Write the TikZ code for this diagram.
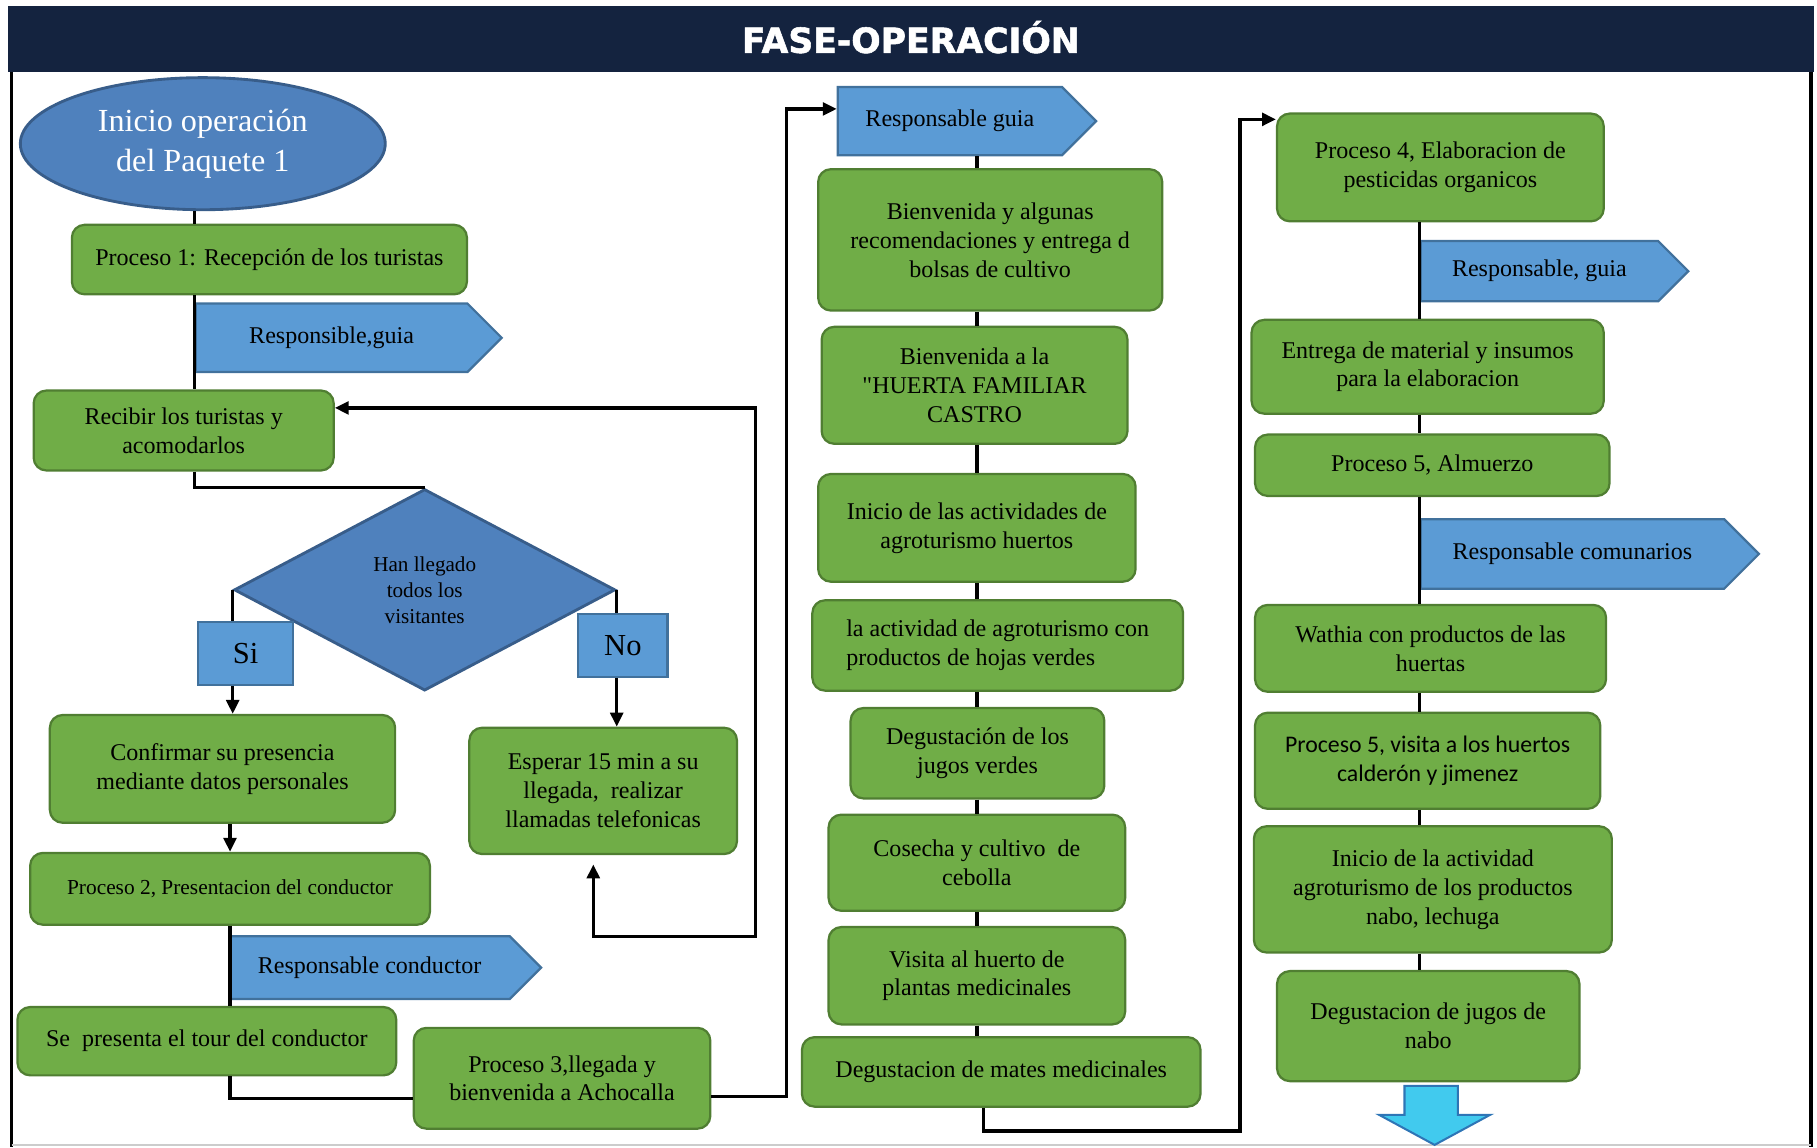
\documentclass[tikz,border=0pt]{standalone}
\usepackage{fontspec}
\setmainfont{Liberation Serif}
\newfontfamily\calibri{Carlito}
\newfontfamily\heavysans{DejaVu Sans}[BoldFeatures={FakeBold=1.6}]
\usepackage{tikz}
\usetikzlibrary{arrows.meta,positioning,calc,shapes.geometric,shapes.symbols}
\definecolor{navy}{HTML}{14233F}
\definecolor{leaf}{HTML}{70AD47}
\definecolor{leafdark}{HTML}{507E32}
\definecolor{steel}{HTML}{4F81BD}
\definecolor{steeldark}{HTML}{385D8A}
\definecolor{sky}{HTML}{5B9BD5}
\definecolor{skydark}{HTML}{41719C}
\definecolor{cyanarrow}{HTML}{41CAEE}
\definecolor{cyandark}{HTML}{2E75B6}
\tikzset{
  task/.style={draw=leafdark,fill=leaf,line width=1.1pt,rounded corners=0.22cm,align=center,
    font=\fontsize{11.8}{14.2}\selectfont},
  tag/.style={signal,signal to=east,signal pointer angle=90,draw=skydark,fill=sky,line width=1.1pt,
    font=\fontsize{11.8}{14.2}\selectfont,inner sep=0pt,anchor=west},
  start/.style={ellipse,draw=steeldark,fill=steel,line width=1.4pt,text=white,align=center,
    font=\fontsize{15.8}{19.5}\selectfont},
  decision/.style={diamond,draw=steeldark,fill=steel,line width=1.4pt,align=center,inner sep=0pt,
    font=\fontsize{10.4}{12.8}\selectfont},
  answer/.style={draw=skydark,fill=sky,line width=1.1pt,font=\fontsize{15}{18}\selectfont},
  conn/.style={draw=black,line width=1.6pt},
  arrow/.style={conn,-{Triangle[length=0.24cm,width=0.22cm]}},
  twoway/.style={conn,{Triangle[length=0.24cm,width=0.22cm]}-{Triangle[length=0.24cm,width=0.22cm]}},
  bigarrow/.style={draw=cyandark,fill=cyanarrow,line width=1pt}
}

\begin{document}
\begin{tikzpicture}[x=0.02cm,y=-0.02cm]
  \useasboundingbox (0,0) rectangle (1568,990);
  % header and frame
  \fill[navy] (7,5) rectangle (1565,62);
  \node[text=white,font=\heavysans\bfseries\fontsize{17}{20}\selectfont] (title) at (786,32) {FASE-OPERACIÓN};
  \draw[line width=1.6pt] (10,62) -- (10,990);
  \draw[line width=2.2pt] (1563,62) -- (1563,990);
  \draw[black!20,line width=0.8pt] (10,988) -- (1563,988);

  % first column
  \node[start,minimum width=6.3cm,minimum height=2.28cm] (ini) at (175,124) {Inicio operación\\del Paquete 1};
  \node[task,minimum width=6.82cm,minimum height=1.2cm] (p1) at (232.5,224) {Proceso 1: Recepción de los turistas};
  \node[tag,minimum width=5.28cm,minimum height=1.18cm] (rg1) at (168,291.5) {Responsible,guia};
  \node[task,minimum width=5.18cm,minimum height=1.38cm] (rec) at (158.5,371.5) {Recibir los turistas y\\acomodarlos};
  \node[decision,minimum width=6.58cm,minimum height=3.48cm] (dec) at (366.5,509) {Han llegado\\todos los\\visitantes};
  \node[answer,minimum width=1.64cm,minimum height=1.08cm] (si) at (212,564) {Si};
  \node[answer,minimum width=1.54cm,minimum height=1.08cm] (no) at (537.5,557) {No};
  \node[task,minimum width=5.96cm,minimum height=1.86cm] (conf) at (192,663.5) {Confirmar su presencia\\mediante datos personales};
  \node[task,minimum width=4.62cm,minimum height=2.18cm] (esp) at (520.5,682.5) {Esperar 15 min a su\\llegada,\ \ realizar\\llamadas telefonicas};
  \node[task,minimum width=6.9cm,minimum height=1.24cm,font=\fontsize{10.5}{13}\selectfont] (p2) at (198.5,767) {Proceso 2, Presentacion del conductor};
  \node[tag,minimum width=5.38cm,minimum height=1.08cm] (rc) at (197,835) {Responsable conductor};
  \node[task,minimum width=6.54cm,minimum height=1.18cm] (tour) at (178.5,898.5) {Se\ \ presenta el tour del conductor};
  \node[task,minimum width=5.12cm,minimum height=1.74cm] (p3) at (485,930.5) {Proceso 3,llegada y\\bienvenida a Achocalla};

  \draw[conn] (ini.south -| rg1.west) -- (p1.north -| rg1.west);
  \draw[conn] (p1.south -| rg1.west) -- (rec.north -| rg1.west);
  \draw[conn] (rec.south -| rg1.west) |- (dec.north);
  \draw[conn] (dec.west) -- (si.north -| dec.west);
  \draw[arrow] (si.south -| dec.west) -- (conf.north -| dec.west);
  \draw[conn] (dec.east) -- (no.north -| dec.east);
  \draw[arrow] (no.south -| dec.east) -- (esp.north -| dec.east);
  \draw[arrow] (conf.south -| p2.north) -- (p2.north);
  \draw[conn] (p2.south) -- (tour.north -| p2.south);
  \draw[conn] (tour.south -| p2.south) |- ([yshift=-0.35cm]p3.west);
  \coordinate (loop) at (652,808);
  \draw[twoway,shorten >=0.16cm] ([yshift=0.39cm]rec.east) -| (loop) -| ([xshift=-0.17cm]esp.south);

  % second column
  \node[tag,minimum width=4.46cm,minimum height=1.18cm] (rg2) at (722,104.5) {Responsable guia};
  \node[task,minimum width=5.94cm,minimum height=2.44cm] (b1) at (854.5,207) {Bienvenida y algunas\\recomendaciones y entrega d\\bolsas de cultivo};
  \node[task,minimum width=5.28cm,minimum height=2.02cm] (b2) at (841,332.5) {Bienvenida a la\\\textquotedbl HUERTA FAMILIAR\\CASTRO};
  \node[task,minimum width=5.48cm,minimum height=1.86cm] (b3) at (843,455.5) {Inicio de las actividades de\\agroturismo huertos};
  \node[task,minimum width=6.4cm,minimum height=1.56cm,align=left] (b4) at (861,557) {la actividad de agroturismo con\\productos de hojas verdes};
  \node[task,minimum width=4.38cm,minimum height=1.56cm] (b5) at (843.5,650) {Degustación de los\\jugos verdes};
  \node[task,minimum width=5.12cm,minimum height=1.66cm] (b6) at (843,744.5) {Cosecha y cultivo\ \ de\\cebolla};
  \node[task,minimum width=5.12cm,minimum height=1.68cm] (b7) at (843,842) {Visita al huerto de\\plantas medicinales};
  \node[task,minimum width=6.88cm,minimum height=1.2cm] (b8) at (864,925) {Degustacion de mates medicinales};

  \coordinate (up1) at (679,946);
  \draw[arrow] (p3.east |- up1) -- (up1) |- ([yshift=0.21cm]rg2.west);
  \foreach \i/\j in {rg2/b1,b1/b2,b2/b3,b3/b4,b4/b5,b5/b6,b6/b7,b7/b8}
    \draw[conn] (\i.south -| b3) -- (\j.north -| b3);

  % third column
  \node[task,minimum width=5.64cm,minimum height=1.86cm] (p4) at (1243,144.5) {Proceso 4, Elaboracion de\\pesticidas organicos};
  \node[tag,minimum width=4.62cm,minimum height=1.04cm] (rg3) at (1225,234) {Responsable, guia};
  \node[task,minimum width=6.08cm,minimum height=1.62cm] (c1) at (1232,316.5) {Entrega de material y insumos\\para la elaboracion};
  \node[task,minimum width=6.12cm,minimum height=1.06cm] (c2) at (1236,401.5) {Proceso 5, Almuerzo};
  \node[tag,minimum width=5.84cm,minimum height=1.2cm] (rc3) at (1225,478) {Responsable comunarios};
  \node[task,minimum width=6.06cm,minimum height=1.5cm] (c3) at (1234.5,559.5) {Wathia con productos de las\\huertas};
  \node[task,minimum width=5.96cm,minimum height=1.66cm,font=\calibri\fontsize{11.7}{14.2}\selectfont] (c4) at (1232,656.5) {Proceso 5, visita a los huertos\\calderón y jimenez};
  \node[task,minimum width=6.18cm,minimum height=2.18cm] (c5) at (1236.5,767.5) {Inicio de la actividad\\agroturismo de los productos\\nabo, lechuga};
  \node[task,minimum width=5.22cm,minimum height=1.9cm] (c6) at (1232.5,885.5) {Degustacion de jugos de\\nabo};

  \coordinate (up2) at (1070,976);
  \draw[arrow] ([xshift=-0.3cm]b8.south) |- (up2) |- ([yshift=0.83cm]p4.west);
  \foreach \i/\j in {p4/c1,c1/c2,c2/c3,c3/c4,c4/c5,c5/c6}
    \draw[conn] (\i.south -| rg3.west) -- (\j.north -| rg3.west);

  % continues on next page
  \draw[bigarrow] (1212,937) -- (1258,937) -- (1258,962) -- (1286,962) -- (1238,988)
    -- (1190,962) -- (1212,962) -- cycle;
\end{tikzpicture}
\end{document}
